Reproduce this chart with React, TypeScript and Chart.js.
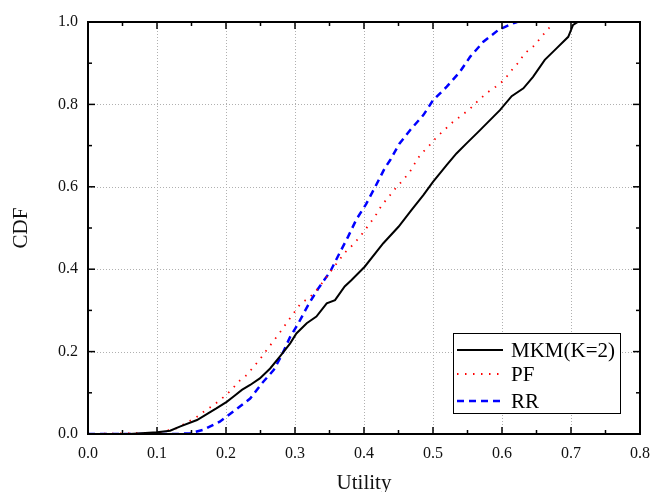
import React, { useEffect, useRef } from "react";
import { Chart, registerables } from "chart.js";
Chart.register(...registerables);

const mkmUtility = [0, 0.06, 0.1, 0.119, 0.133, 0.158, 0.174, 0.186, 0.201, 0.211, 0.223, 0.235, 0.249, 0.264, 0.278, 0.293, 0.302, 0.317, 0.331, 0.346, 0.358, 0.372, 0.382, 0.401, 0.428, 0.45, 0.469, 0.486, 0.5, 0.52, 0.534, 0.549, 0.566, 0.597, 0.614, 0.631, 0.645, 0.662, 0.679, 0.696, 0.703, 0.71];
const mkmCdf = [0, 0, 0.004, 0.008, 0.018, 0.034, 0.05, 0.062, 0.078, 0.091, 0.107, 0.119, 0.135, 0.159, 0.188, 0.22, 0.244, 0.269, 0.285, 0.317, 0.325, 0.358, 0.374, 0.406, 0.463, 0.503, 0.544, 0.58, 0.612, 0.653, 0.681, 0.706, 0.734, 0.786, 0.82, 0.839, 0.867, 0.908, 0.936, 0.964, 0.993, 1.0];

const pfUtility = [0, 0.1, 0.114, 0.129, 0.142, 0.155, 0.17, 0.182, 0.196, 0.208, 0.218, 0.23, 0.24, 0.249, 0.259, 0.269, 0.278, 0.288, 0.298, 0.308, 0.322, 0.334, 0.343, 0.372, 0.385, 0.397, 0.408, 0.417, 0.426, 0.437, 0.446, 0.457, 0.467, 0.473, 0.482, 0.493, 0.505, 0.528, 0.542, 0.554, 0.566, 0.578, 0.591, 0.603, 0.613, 0.624, 0.633, 0.647, 0.657, 0.668, 0.675];
const pfCdf = [0, 0.003, 0.008, 0.014, 0.027, 0.038, 0.057, 0.07, 0.089, 0.107, 0.127, 0.143, 0.163, 0.181, 0.204, 0.226, 0.246, 0.27, 0.293, 0.316, 0.333, 0.354, 0.375, 0.44, 0.461, 0.485, 0.51, 0.531, 0.556, 0.578, 0.597, 0.617, 0.638, 0.655, 0.679, 0.697, 0.72, 0.756, 0.774, 0.79, 0.81, 0.828, 0.843, 0.859, 0.881, 0.902, 0.924, 0.943, 0.964, 0.985, 1.0];

const rrUtility = [0, 0.13, 0.148, 0.167, 0.191, 0.215, 0.235, 0.252, 0.269, 0.281, 0.293, 0.305, 0.319, 0.334, 0.351, 0.363, 0.377, 0.389, 0.403, 0.416, 0.43, 0.438, 0.451, 0.467, 0.486, 0.5, 0.52, 0.539, 0.554, 0.573, 0.595, 0.616, 0.622];
const rrCdf = [0, 0, 0.002, 0.01, 0.03, 0.06, 0.086, 0.123, 0.155, 0.192, 0.236, 0.269, 0.313, 0.354, 0.394, 0.434, 0.479, 0.521, 0.558, 0.599, 0.645, 0.665, 0.704, 0.738, 0.774, 0.81, 0.843, 0.879, 0.916, 0.952, 0.981, 0.997, 1.0];

const seriesNames = ["MKM(K=2)", "PF", "RR"];
const seriesColors = ["#000000", "#ff0000", "#0000ff"];
const xMin = 0, xMax = 0.8, xStep = 0.1, xMinorStep = 0.05;
const yMin = 0, yMax = 1.0, yStep = 0.2, yMinorStep = 0.1;
const xTitle = "Utility";
const yTitle = "CDF";

const toPts = (xs: number[], ys: number[]) => xs.map((x, i) => ({ x, y: ys[i] }));
const SERIF = "'Liberation Serif', 'Times New Roman', serif";

const framePlugin = {
  id: "frame",
  beforeDatasetsDraw(chart: any) {
    const { ctx, chartArea: a, scales } = chart;
    const xs = scales.x, ys = scales.y;
    ctx.save();
    ctx.strokeStyle = "#b0b0b0";
    ctx.lineWidth = 1;
    ctx.setLineDash([1, 2]);
    for (let v = xMin + xStep; v < xMax - 1e-9; v += xStep) {
      const px = Math.round(xs.getPixelForValue(v)) + 0.5;
      ctx.beginPath(); ctx.moveTo(px, a.top); ctx.lineTo(px, a.bottom); ctx.stroke();
    }
    for (let v = yMin + yStep; v < yMax - 1e-9; v += yStep) {
      const py = Math.round(ys.getPixelForValue(v)) + 0.5;
      ctx.beginPath(); ctx.moveTo(a.left, py); ctx.lineTo(a.right, py); ctx.stroke();
    }
    ctx.restore();
  },
  afterDatasetsDraw(chart: any) {
    const { ctx, chartArea: a, scales } = chart;
    const xs = scales.x, ys = scales.y;
    ctx.save();
    ctx.setLineDash([]);
    ctx.strokeStyle = "#000";
    ctx.lineWidth = 1.5;
    const nx = Math.round((xMax - xMin) / xMinorStep);
    for (let i = 0; i <= nx; i++) {
      const v = xMin + i * xMinorStep;
      const len = i % 2 === 0 ? 7 : 4;
      const px = xs.getPixelForValue(v);
      ctx.beginPath(); ctx.moveTo(px, a.bottom); ctx.lineTo(px, a.bottom - len); ctx.stroke();
      ctx.beginPath(); ctx.moveTo(px, a.top); ctx.lineTo(px, a.top + len); ctx.stroke();
    }
    const ny = Math.round((yMax - yMin) / yMinorStep);
    for (let i = 0; i <= ny; i++) {
      const v = yMin + i * yMinorStep;
      const len = i % 2 === 0 ? 7 : 4;
      const py = ys.getPixelForValue(v);
      ctx.beginPath(); ctx.moveTo(a.left, py); ctx.lineTo(a.left + len, py); ctx.stroke();
      ctx.beginPath(); ctx.moveTo(a.right, py); ctx.lineTo(a.right - len, py); ctx.stroke();
    }
    ctx.lineWidth = 2;
    ctx.strokeRect(a.left, a.top, a.right - a.left, a.bottom - a.top);
    ctx.restore();
  },
  afterDraw(chart: any) {
    const { ctx, chartArea: a } = chart;
    const bx = a.right - 187, by = a.bottom - 101, bw = 167, bh = 80;
    ctx.save();
    ctx.fillStyle = "#fff";
    ctx.fillRect(bx, by, bw, bh);
    ctx.strokeStyle = "#000";
    ctx.lineWidth = 1;
    ctx.strokeRect(bx + 0.5, by + 0.5, bw, bh);
    const rows = [by + 17, by + 41, by + 68];
    chart.data.datasets.forEach((ds: any, i: number) => {
      const y = rows[i];
      ctx.strokeStyle = ds.borderColor;
      ctx.lineWidth = ds.borderWidth;
      ctx.setLineDash(ds.borderDash || []);
      ctx.beginPath(); ctx.moveTo(bx + 4, y); ctx.lineTo(bx + 50, y); ctx.stroke();
      ctx.setLineDash([]);
      ctx.fillStyle = "#000";
      ctx.font = `21px ${SERIF}`;
      ctx.textBaseline = "middle";
      ctx.textAlign = "left";
      ctx.fillText(ds.label, bx + 58, y + 1);
    });
    ctx.restore();
  },
};

export default function App() {
  const ref = useRef<HTMLCanvasElement>(null);
  useEffect(() => {
    const chart = new Chart(ref.current!, {
      type: "line",
      data: {
        datasets: [
          { label: seriesNames[0], data: toPts(mkmUtility, mkmCdf), borderColor: seriesColors[0], borderWidth: 2, pointRadius: 0, fill: false, tension: 0 },
          { label: seriesNames[1], data: toPts(pfUtility, pfCdf), borderColor: seriesColors[1], borderWidth: 1.8, borderDash: [1.5, 6.5], pointRadius: 0, fill: false, tension: 0 },
          { label: seriesNames[2], data: toPts(rrUtility, rrCdf), borderColor: seriesColors[2], borderWidth: 2.5, borderDash: [7, 5], pointRadius: 0, fill: false, tension: 0 },
        ],
      },
      options: {
        responsive: false,
        animation: false,
        layout: { padding: { top: 22, right: 11, left: 0, bottom: 0 } },
        plugins: { legend: { display: false }, tooltip: { enabled: false } },
        scales: {
          x: {
            type: "linear", min: xMin, max: xMax,
            grid: { display: false, drawTicks: false, tickLength: 0 },
            border: { display: false },
            ticks: { stepSize: xStep, padding: 10, color: "#111", font: { family: SERIF, size: 16 }, maxRotation: 0, callback: (v: any) => Number(v).toFixed(1) },
            title: { display: true, text: xTitle, color: "#111", font: { family: SERIF, size: 21, lineHeight: 0.8 }, padding: { top: 0, bottom: 0 } },
            afterFit: (s: any) => { s.height = 58; s.paddingLeft = 0; s.paddingRight = 0; },
          },
          y: {
            type: "linear", min: yMin, max: yMax,
            grid: { display: false, drawTicks: false, tickLength: 0 },
            border: { display: false },
            ticks: { stepSize: yStep, padding: 10, color: "#111", font: { family: SERIF, size: 16 }, callback: (v: any) => Number(v).toFixed(1) },
            title: { display: true, text: yTitle, color: "#111", font: { family: SERIF, size: 21, lineHeight: 0.8 }, padding: { top: 13, bottom: 0 } },
            afterFit: (s: any) => { s.width = 88; s.paddingTop = 0; s.paddingBottom = 0; },
          },
        },
      },
      plugins: [framePlugin],
    });
    return () => chart.destroy();
  }, []);
  return (
    <div style={{ position: "absolute", left: 0, top: 0, width: 651, height: 492, background: "#fff" }}>
      <canvas ref={ref} width={651} height={492} style={{ display: "block" }} />
    </div>
  );
}
